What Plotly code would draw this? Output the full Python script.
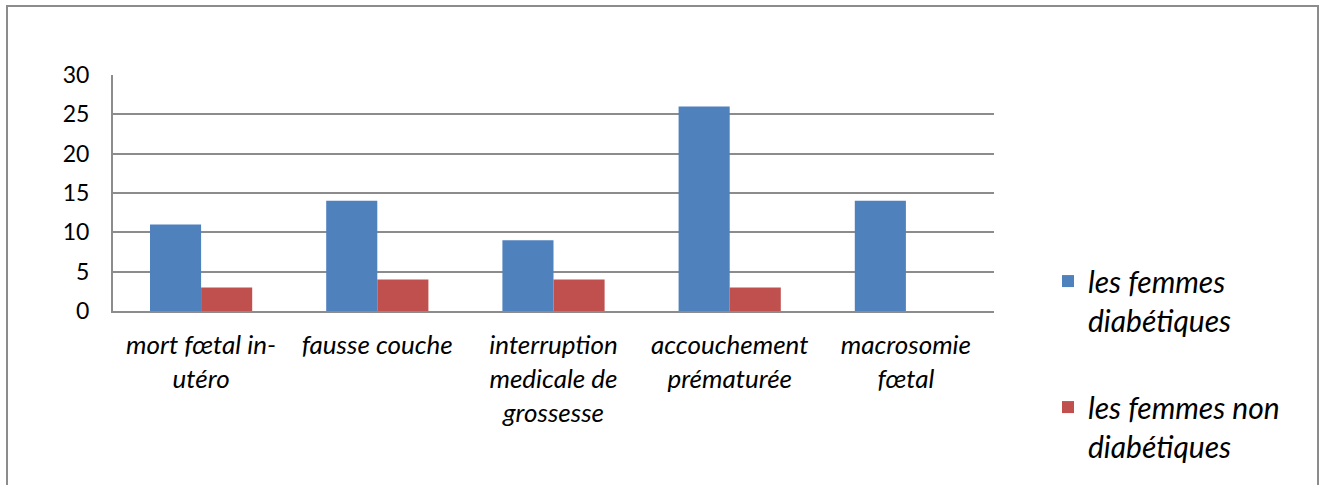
import plotly.graph_objects as go

categories = ["mort fœtal in-<br>utéro", "fausse couche", "interruption<br>medicale de<br>grossesse",
              "accouchement<br>prématurée", "macrosomie<br>fœtal"]
diabetiques = [11, 14, 9, 26, 14]
non_diabetiques = [3, 4, 4, 3, 0]
series_names = ["les femmes<br>diabétiques", "les femmes non<br>diabétiques"]
y_ticks = [0, 5, 10, 15, 20, 25, 30]

W, H = 1324, 485
L, R, T, B = 113, 994, 75, 311

fig = go.Figure()
fig.add_trace(go.Bar(x=categories, y=diabetiques, name=series_names[0],
                     marker=dict(color="#4F81BD", line=dict(width=0)),
                     legendgroup="a"))
fig.add_trace(go.Bar(x=categories, y=non_diabetiques, name=series_names[1],
                     marker=dict(color="#C0504D", line=dict(width=0)),
                     legendgroup="b"))

font_family = "Lato, 'Open Sans', sans-serif"
fig.update_layout(
    width=W, height=H,
    margin=dict(l=L, r=W - R, t=T, b=H - B, pad=0, autoexpand=False),
    paper_bgcolor="white", plot_bgcolor="white",
    barmode="group", bargap=0.42, bargroupgap=0,
    font=dict(family=font_family, size=23, color="black"),
    xaxis=dict(showgrid=False, showline=True, linecolor="#8c8c8c", linewidth=2,
               ticks="", tickfont=dict(size=26, style="italic"), ticklabelstandoff=10,
               automargin=False),
    yaxis=dict(range=[0, 30], tickvals=y_ticks, showgrid=True, gridcolor="#8c8c8c", gridwidth=2,
               showline=True, linecolor="#8c8c8c", linewidth=2, zeroline=False,
               ticks="", tickfont=dict(size=23), ticklabelstandoff=17, automargin=False),
    legend=dict(x=(1048 - L) / (R - L), y=0.237, xanchor="left", yanchor="top", valign="top",
                font=dict(size=30, style="italic"), tracegroupgap=45,
                itemwidth=30, bgcolor="rgba(0,0,0,0)"),
    showlegend=True,
)

pw, ph = R - L, B - T
fig.add_shape(type="rect", xref="paper", yref="paper",
              x0=(7 - L) / pw, x1=(1318 - L) / pw,
              y0=(B - 492) / ph, y1=(B - 6) / ph,
              line=dict(color="#8c8c8c", width=2), layer="below")

fig.write_html("out.html", config={"displayModeBar": False},
               post_script="document.body.style.margin='0';document.body.style.overflow='hidden';")
